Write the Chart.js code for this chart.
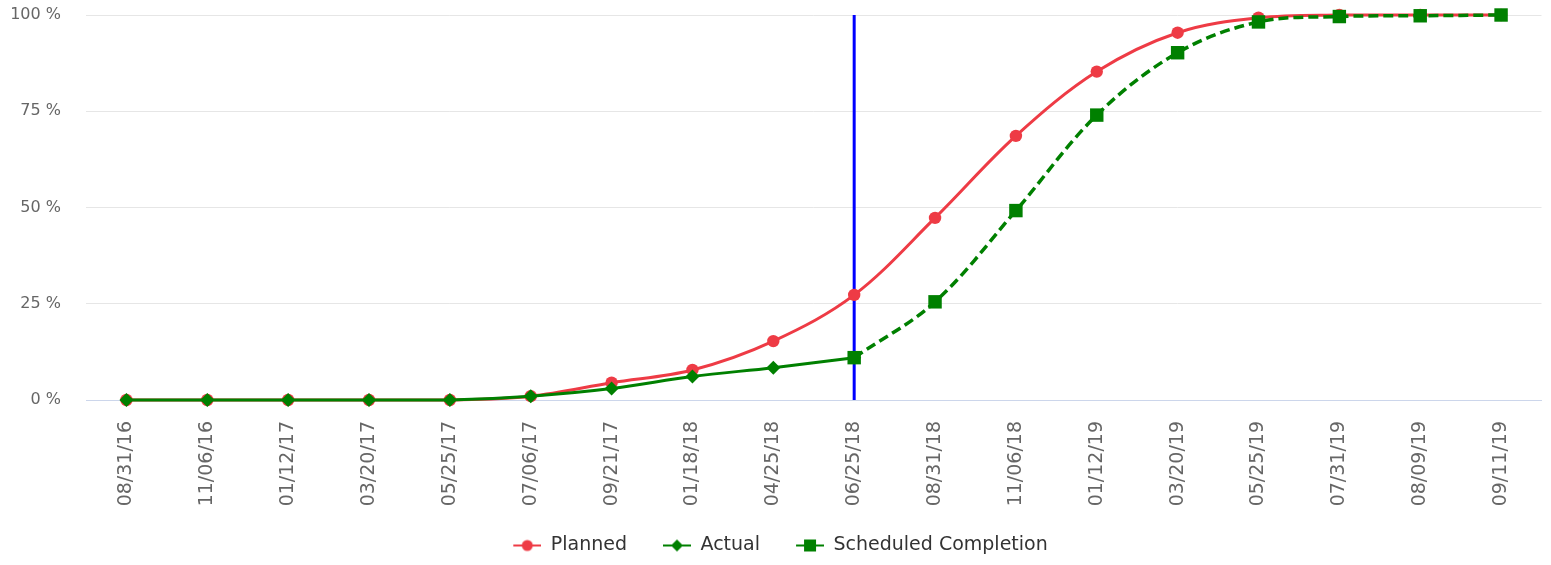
<!DOCTYPE html>
<html>
<head>
<meta charset="utf-8">
<script src="https://cdn.jsdelivr.net/npm/chart.js@4/dist/chart.umd.min.js"></script>
<style>
  html, body { margin: 0; padding: 0; background: #ffffff; }
  #wrap { width: 1551px; height: 565px; position: relative; }
</style>
</head>
<body>
<div id="wrap"><canvas id="c"></canvas></div>
<script>
const categories = ['08/31/16','11/06/16','01/12/17','03/20/17','05/25/17','07/06/17','09/21/17','01/18/18','04/25/18','06/25/18','08/31/18','11/06/18','01/12/19','03/20/19','05/25/19','07/31/19','08/09/19','09/11/19'];
const planned   = [0, 0, 0, 0, 0, 1.0, 4.5, 7.8, 15.3, 27.3, 47.3, 68.6, 85.3, 95.4, 99.3, 100, 100, 100];
const actual    = [0, 0, 0, 0, 0, 1.0, 3.0, 6.1, 8.4, 11.0, null, null, null, null, null, null, null, null];
const scheduled = [null, null, null, null, null, null, null, null, null, 11.0, 25.5, 49.2, 74.0, 90.2, 98.2, 99.6, 99.8, 100];
const seriesNames = ['Planned', 'Actual', 'Scheduled Completion'];
const yTickValues = [0, 25, 50, 75, 100];
const todayLabel = '06/25/18';

const RED = '#ee3b45';
const GREEN = '#008000';
const FONT = 'DejaVu Sans';

// legend icon: 10px transparent lead-in, then 28px line with marker
function legendIcon(color, marker) {
  const cv = document.createElement('canvas');
  cv.width = 38; cv.height = 16;
  const g = cv.getContext('2d');
  const o = 10;
  g.strokeStyle = color; g.lineWidth = 2;
  g.beginPath(); g.moveTo(o, 8); g.lineTo(o + 28, 8); g.stroke();
  g.fillStyle = color;
  g.beginPath();
  if (marker === 'circle') { g.arc(o + 14, 8, 5.5, 0, Math.PI * 2); }
  else if (marker === 'diamond') { g.moveTo(o + 14, 2); g.lineTo(o + 20, 8); g.lineTo(o + 14, 14); g.lineTo(o + 8, 8); g.closePath(); }
  else { g.rect(o + 8, 2, 12, 12); }
  g.fill();
  return cv;
}
const icons = [legendIcon(RED, 'circle'), legendIcon(GREEN, 'diamond'), legendIcon(GREEN, 'square')];

const todayLine = {
  id: 'todayLine',
  beforeDatasetsDraw(chart) {
    const x = chart.scales.x.getPixelForValue(categories.indexOf(todayLabel));
    const {top, bottom} = chart.chartArea;
    const ctx = chart.ctx;
    ctx.save();
    ctx.strokeStyle = '#0000ff';
    ctx.lineWidth = 3;
    ctx.beginPath(); ctx.moveTo(x, top); ctx.lineTo(x, bottom); ctx.stroke();
    ctx.restore();
  }
};

new Chart(document.getElementById('c'), {
  type: 'line',
  data: {
    labels: categories,
    datasets: [
      { label: seriesNames[0], data: planned, borderColor: RED, backgroundColor: RED, borderWidth: 3,
        pointStyle: 'circle', pointRadius: 6.2, pointBorderWidth: 0, tension: 0.35, order: 3, clip: false },
      { label: seriesNames[1], data: actual, borderColor: GREEN, backgroundColor: GREEN, borderWidth: 3,
        pointStyle: 'rectRot', pointRadius: 7, pointBorderWidth: 0, tension: 0.35, order: 2, clip: false },
      { label: seriesNames[2], data: scheduled, borderColor: GREEN, backgroundColor: GREEN, borderWidth: 3.5,
        borderDash: [10, 5], pointStyle: 'rect', pointRadius: 9.5, pointBorderWidth: 0, tension: 0.35, order: 1, clip: false }
    ]
  },
  options: {
    responsive: true,
    maintainAspectRatio: false,
    animation: false,
    layout: { padding: { top: 15, right: 0, bottom: 0, left: 0 } },
    scales: {
      x: {
        offset: true,
        grid: { display: false, drawTicks: false },
        border: { display: true, color: '#ccd6eb', width: 1 },
        ticks: { autoSkip: false, maxRotation: 90, minRotation: 90, padding: 21,
                 color: '#666666', font: { family: FONT, size: 19 } },
        afterFit(s) { s.height = 110; }
      },
      y: {
        min: 0, max: 100,
        afterBuildTicks(s) { s.ticks = yTickValues.map(v => ({ value: v })); },
        grid: { color: '#e6e6e6', lineWidth: 1, drawTicks: true, tickLength: 25, tickColor: 'rgba(0,0,0,0)' },
        border: { display: false },
        ticks: { padding: 0, color: '#666666', font: { family: FONT, size: 16 },
                 callback: v => v + ' %' },
        afterFit(s) { s.width = 86; }
      }
    },
    plugins: {
      tooltip: { enabled: false },
      legend: {
        position: 'bottom',
        labels: {
          usePointStyle: true,
          pointStyleWidth: 38,
          padding: 26,
          color: '#333333',
          font: { family: FONT, size: 19 },
          generateLabels(chart) {
            return chart.data.datasets.map((ds, i) => ({
              text: ds.label, datasetIndex: i, pointStyle: icons[i],
              fillStyle: ds.borderColor, strokeStyle: ds.borderColor, lineWidth: 0,
              fontColor: '#333333', hidden: false
            }));
          }
        }
      }
    }
  },
  plugins: [todayLine]
});
</script>
</body>
</html>
